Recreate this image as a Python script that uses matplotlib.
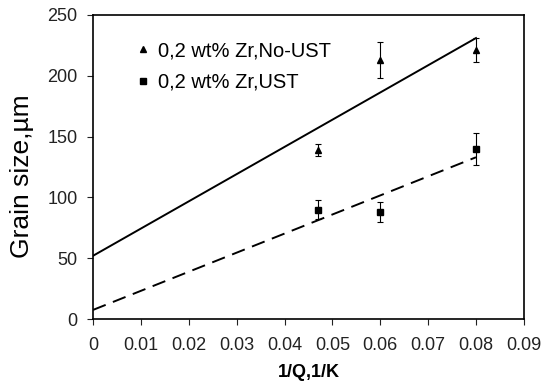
import matplotlib.pyplot as plt

plt.rcParams['font.family'] = ['Liberation Sans', 'DejaVu Sans']

# measured grain sizes
x_pts = [0.047, 0.06, 0.08]
no_ust = [139, 213, 221]
no_ust_err = [5, 15, 10]
ust = [90, 88, 140]
ust_err = [8, 8, 13]

# model lines
fit_x = [0.0, 0.08]
fit_no_ust = [52, 231]
fit_ust = [7.5, 133]

fig, ax = plt.subplots(figsize=(5.44, 3.83), dpi=100)
fig.subplots_adjust(left=0.171, right=0.963, top=0.961, bottom=0.167)

ax.plot(fit_x, fit_no_ust, color='black', lw=1.4)
ax.plot(fit_x, fit_ust, color='black', lw=1.4, dashes=(7, 4))
ax.errorbar(x_pts, no_ust, yerr=no_ust_err, fmt='^', color='black', ms=5,
            elinewidth=0.8, capsize=2.5, capthick=0.8, label='0,2 wt% Zr,No-UST')
ax.errorbar(x_pts, ust, yerr=ust_err, fmt='s', color='black', ms=5,
            elinewidth=0.8, capsize=2.5, capthick=0.8, label='0,2 wt% Zr,UST')

ax.set_xlim(0, 0.09)
ax.set_ylim(0, 250)
ax.set_xticks([0, 0.01, 0.02, 0.03, 0.04, 0.05, 0.06, 0.07, 0.08, 0.09])
ax.set_xticklabels(['0', '0.01', '0.02', '0.03', '0.04', '0.05', '0.06', '0.07', '0.08', '0.09'])
ax.set_yticks([0, 50, 100, 150, 200, 250])
ax.tick_params(labelsize=13, length=4, width=0.8, colors='#222222')
ax.tick_params(axis='y', pad=7)
ax.tick_params(axis='x', pad=9)
for s in ax.spines.values():
    s.set_linewidth(1.2)

ax.set_xlabel('1/Q,1/K', fontsize=13, fontweight='bold', labelpad=7)
ax.set_ylabel('Grain size,µm', fontsize=19)
ax.yaxis.set_label_coords(-0.137, 0.47)

handles, labels = ax.get_legend_handles_labels()
handles = [h[0] for h in handles]
ax.legend(handles, labels, loc='upper left', bbox_to_anchor=(0.074, 0.94), frameon=False,
          fontsize=14.5, handletextpad=0.25, handlelength=1.0, labelspacing=0.62,
          borderaxespad=0, markerscale=0.8)

fig.savefig('out.png')
